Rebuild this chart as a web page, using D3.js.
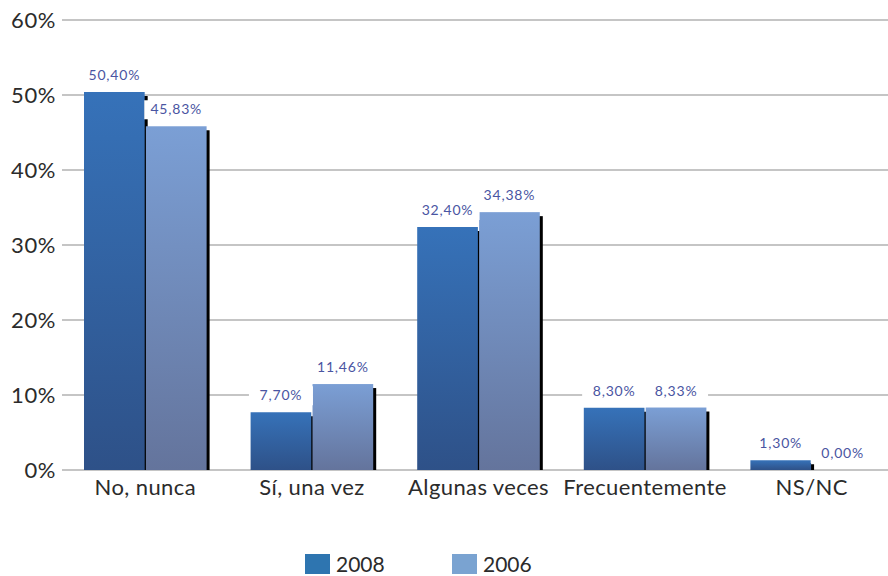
<!DOCTYPE html>
<html>
<head>
<meta charset="utf-8">
<script src="https://cdn.jsdelivr.net/npm/d3@7"></script>
<style>
  body { margin: 0; background: #fff; }
  svg text { font-family: Lato, "Open Sans", sans-serif; }
</style>
</head>
<body>
<div id="chart"></div>
<script>
// Data
var categories = ["No, nunca", "Sí, una vez", "Algunas veces", "Frecuentemente", "NS/NC"];
var seriesNames = ["2008", "2006"];
var values2008 = [50.40, 7.70, 32.40, 8.30, 1.30];
var values2006 = [45.83, 11.46, 34.38, 8.33, 0.00];
var yTicks = [0, 10, 20, 30, 40, 50, 60];

var svgWidth = 888;
var svgHeight = 576;
var margin = { top: 20, right: -7, bottom: 106, left: 62 };
var width = svgWidth - margin.left - margin.right;
var height = svgHeight - margin.top - margin.bottom;

var svg = d3.select("#chart").append("svg")
  .attr("width", svgWidth)
  .attr("height", svgHeight);

var defs = svg.append("defs");
function grad(id, top, bottom) {
  var g = defs.append("linearGradient").attr("id", id)
    .attr("x1", 0).attr("y1", 0).attr("x2", 0).attr("y2", 1);
  g.append("stop").attr("offset", "0%").attr("stop-color", top);
  g.append("stop").attr("offset", "100%").attr("stop-color", bottom);
}
grad("g2008", "#3672b9", "#2e5188");
grad("g2006", "#7b9fd5", "#64749c");

var chartGroup = svg.append("g")
  .attr("transform", `translate(${margin.left}, ${margin.top})`);

var x0 = d3.scaleBand().domain(categories).range([0, width]).paddingInner(0).paddingOuter(0);
var x1 = d3.scaleBand().domain(seriesNames).range([22, x0.bandwidth() - 22]).paddingInner(0.02);
var y = d3.scaleLinear().domain([0, 60]).range([height, 0]);

// gridlines + y labels
chartGroup.selectAll(".grid").data(yTicks).enter().append("line")
  .attr("x1", 0).attr("x2", width)
  .attr("y1", d => y(d)).attr("y2", d => y(d))
  .attr("stroke", "#8c8c8c").attr("stroke-width", 1.2);

chartGroup.selectAll(".ylab").data(yTicks).enter().append("text")
  .attr("x", -6).attr("y", d => y(d) + 8)
  .attr("text-anchor", "end")
  .style("font-size", "22px").style("letter-spacing", "0.6px").style("fill", "#2b2b2b")
  .text(d => d + "%");

var rows = categories.map((c, i) => ({ cat: c, vals: [
  { s: "2008", v: values2008[i] }, { s: "2006", v: values2006[i] }] }));

var groups = chartGroup.selectAll(".cat").data(rows).enter().append("g")
  .attr("transform", d => `translate(${x0(d.cat)},0)`);

// shadows
groups.selectAll(".shadow").data(d => d.vals.filter(e => e.v > 0)).enter().append("rect")
  .attr("x", d => x1(d.s) + 3)
  .attr("y", d => y(d.v) + 4)
  .attr("width", x1.bandwidth())
  .attr("height", d => height - y(d.v) - 4)
  .attr("fill", "#000");

groups.selectAll(".bar").data(d => d.vals).enter().append("rect")
  .attr("x", d => x1(d.s))
  .attr("y", d => y(d.v))
  .attr("width", x1.bandwidth())
  .attr("height", d => height - y(d.v))
  .attr("fill", d => d.s === "2008" ? "url(#g2008)" : "url(#g2006)");

// value labels with white backing
var fmt = v => v.toFixed(2).replace(".", ",") + "%";
var labs = groups.selectAll(".lab").data(d => d.vals).enter().append("g")
  .attr("transform", d => `translate(${x1(d.s) + x1.bandwidth() / 2},${y(d.v) - 12})`);
labs.append("rect")
  .attr("x", -32).attr("y", -14).attr("width", 64).attr("height", 19)
  .attr("fill", "#fff");
labs.append("text")
  .attr("text-anchor", "middle")
  .style("font-size", "14px").style("letter-spacing", "0.8px").style("fill", "#4a55a2")
  .text(d => fmt(d.v));

// x labels
chartGroup.selectAll(".xlab").data(categories).enter().append("text")
  .attr("x", d => x0(d) + x0.bandwidth() / 2)
  .attr("y", height + 25)
  .attr("text-anchor", "middle")
  .style("font-size", "22px").style("letter-spacing", "0.4px").style("fill", "#2b2b2b")
  .text(d => d);

// legend
var legendColors = ["#2e75b0", "#7aa3d1"];
var legend = svg.selectAll(".leg").data(seriesNames).enter().append("g")
  .attr("transform", (d, i) => `translate(${305 + i * 147},554)`);
legend.append("rect").attr("width", 25).attr("height", 20)
  .attr("fill", (d, i) => legendColors[i]);
legend.append("text").attr("x", 31).attr("y", 18)
  .style("font-size", "21px").style("fill", "#2b2b2b")
  .text(d => d);
</script>
</body>
</html>
